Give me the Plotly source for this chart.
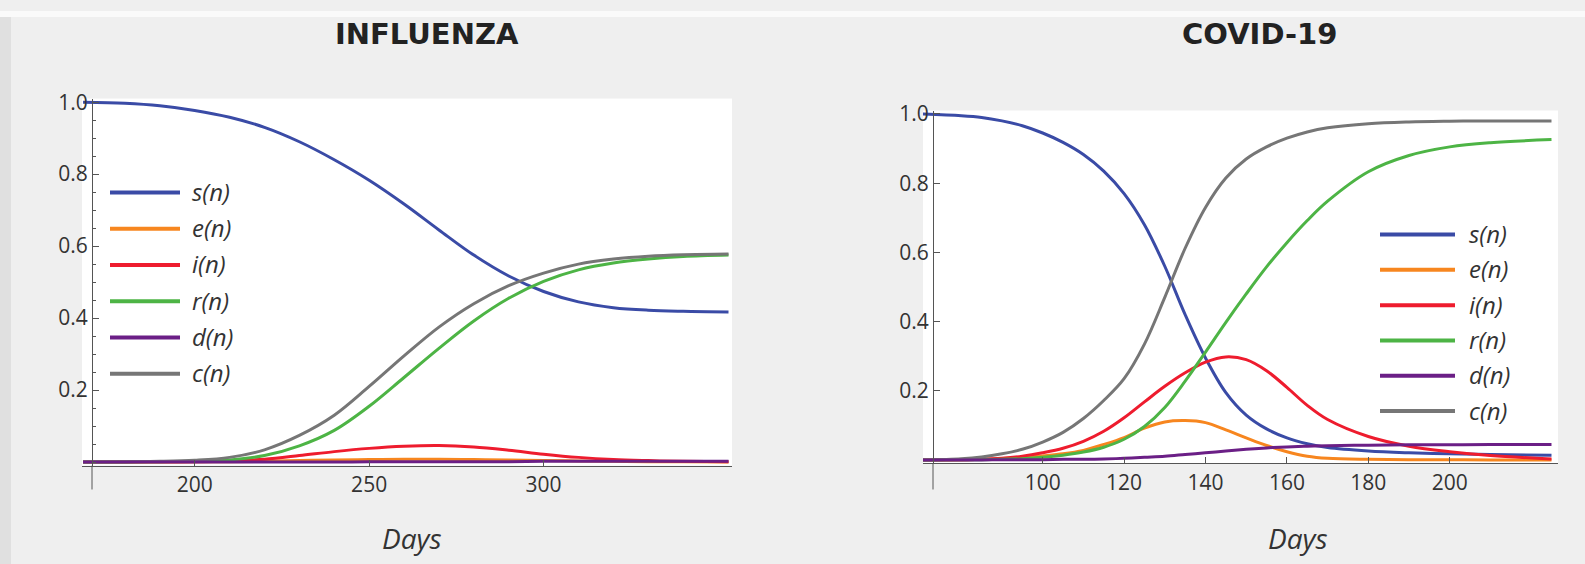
import plotly.graph_objects as go

# ---------------- data ----------------
series_names = ["s(n)", "e(n)", "i(n)", "r(n)", "d(n)", "c(n)"]
series_colors = ["#3a4ba6", "#f7861f", "#ee1c2e", "#4db445", "#6b1f86", "#767676"]

# Influenza panel
flu_days = [168, 180, 190, 200, 210, 220, 230, 240, 250, 260, 270, 280, 290, 300, 310, 320, 330, 340, 353]
flu_s = [1.0, 0.997, 0.99, 0.977, 0.958, 0.93, 0.89, 0.84, 0.783, 0.717, 0.645, 0.575, 0.517, 0.474, 0.445, 0.429, 0.422, 0.419, 0.417]
flu_e = [0, 0, 0, 0.001, 0.001, 0.002, 0.004, 0.006, 0.007, 0.008, 0.008, 0.007, 0.006, 0.004, 0.003, 0.002, 0.001, 0.001, 0]
flu_i = [0, 0, 0.001, 0.001, 0.003, 0.008, 0.018, 0.029, 0.038, 0.044, 0.046, 0.042, 0.033, 0.022, 0.013, 0.007, 0.004, 0.002, 0.001]
flu_r = [0, 0, 0.001, 0.002, 0.006, 0.018, 0.045, 0.088, 0.155, 0.235, 0.316, 0.392, 0.455, 0.502, 0.534, 0.553, 0.564, 0.571, 0.575]
flu_d = [0, 0, 0, 0, 0, 0, 0, 0, 0.001, 0.001, 0.001, 0.001, 0.001, 0.002, 0.002, 0.002, 0.002, 0.002, 0.002]
flu_c = [0, 0.001, 0.002, 0.005, 0.013, 0.034, 0.074, 0.13, 0.21, 0.295, 0.375, 0.44, 0.49, 0.525, 0.55, 0.564, 0.572, 0.576, 0.578]

# COVID-19 panel
cov_days = [70, 80, 85, 90, 95, 100, 105, 110, 115, 120, 125, 130, 135, 140, 145, 150, 155, 160, 165, 170, 180, 190, 200, 210, 225]
cov_s = [1.0, 0.995, 0.99, 0.98, 0.966, 0.945, 0.918, 0.883, 0.835, 0.77, 0.68, 0.56, 0.42, 0.295, 0.195, 0.13, 0.09, 0.064, 0.047, 0.036, 0.026, 0.021, 0.018, 0.016, 0.014]
cov_e = [0, 0.001, 0.002, 0.004, 0.007, 0.012, 0.018, 0.028, 0.045, 0.065, 0.092, 0.11, 0.114, 0.108, 0.087, 0.064, 0.042, 0.024, 0.011, 0.005, 0.002, 0.001, 0.001, 0, 0]
cov_i = [0, 0.001, 0.002, 0.005, 0.011, 0.021, 0.034, 0.054, 0.083, 0.122, 0.168, 0.213, 0.252, 0.283, 0.298, 0.29, 0.258, 0.21, 0.158, 0.117, 0.068, 0.04, 0.024, 0.013, 0.003]
cov_r = [0, 0.001, 0.001, 0.002, 0.004, 0.008, 0.014, 0.023, 0.037, 0.06, 0.097, 0.152, 0.228, 0.312, 0.398, 0.48, 0.558, 0.628, 0.692, 0.748, 0.833, 0.88, 0.905, 0.917, 0.926]
cov_d = [0, 0, 0, 0.001, 0.001, 0.001, 0.002, 0.002, 0.003, 0.005, 0.008, 0.011, 0.016, 0.021, 0.026, 0.031, 0.035, 0.038, 0.04, 0.041, 0.043, 0.044, 0.044, 0.045, 0.045]
cov_c = [0, 0.004, 0.009, 0.018, 0.031, 0.052, 0.08, 0.12, 0.172, 0.235, 0.335, 0.47, 0.612, 0.73, 0.815, 0.87, 0.905, 0.93, 0.948, 0.96, 0.972, 0.977, 0.979, 0.98, 0.98]

y_tickvals = [0.2, 0.4, 0.6, 0.8, 1.0]
y_ticktext = ["0.2", "0.4", "0.6", "0.8", "1.0"]
flu_xticks = [200, 250, 300]
cov_xticks = [100, 120, 140, 160, 180, 200]
panel_titles = ["INFLUENZA", "COVID-19"]
x_title = "Days"

# ---------------- layout helpers ----------------
W, H = 1585, 564
def fx(px):
    return px / W
def fy(py):
    return 1 - py / H

fig = go.Figure()

# draw order: s, e, i, r, c, d (purple on top at zero)
order = [0, 1, 2, 3, 5, 4]
flu_vals = [flu_s, flu_e, flu_i, flu_r, flu_d, flu_c]
cov_vals = [cov_s, cov_e, cov_i, cov_r, cov_d, cov_c]
for k in order:
    fig.add_trace(go.Scatter(x=flu_days, y=flu_vals[k], mode="lines", name=series_names[k],
                             line=dict(color=series_colors[k], width=3, shape="spline", smoothing=1.0),
                             xaxis="x", yaxis="y", showlegend=False, hoverinfo="skip"))
for k in order:
    fig.add_trace(go.Scatter(x=cov_days, y=cov_vals[k], mode="lines", name=series_names[k],
                             line=dict(color=series_colors[k], width=3, shape="spline", smoothing=1.0),
                             xaxis="x2", yaxis="y2", showlegend=False, hoverinfo="skip"))

tick_font = dict(family="Open Sans", size=21, color="#333333")
axis_color = "#555555"

def xaxis_cfg(domain, rng, tickvals, anchor):
    return dict(domain=domain, range=rng, tickvals=tickvals, ticks="inside", ticklen=6,
                tickcolor=axis_color, showline=True, linecolor=axis_color, linewidth=1,
                showgrid=False, zeroline=False, tickfont=tick_font, anchor=anchor,
                ticklabelstandoff=0)

def yaxis_cfg(domain, position, with_minor):
    d = dict(domain=domain, range=[-0.01, 1.01], tickvals=y_tickvals, ticktext=y_ticktext,
             ticks="inside", ticklen=6, tickcolor=axis_color, showline=True,
             linecolor=axis_color, linewidth=1, showgrid=False, zeroline=False,
             tickfont=tick_font, anchor="free", position=position, ticklabelstandoff=0)
    if with_minor:
        d["minor"] = dict(dtick=0.05, tick0=0, ticks="inside", ticklen=3, tickcolor=axis_color)
    return d

fig.update_layout(
    width=W, height=H,
    margin=dict(l=0, r=0, t=0, b=0),
    paper_bgcolor="#efefef",
    plot_bgcolor="#ffffff",
    xaxis=xaxis_cfg([fx(82), fx(732)], [167.7, 354.0], flu_xticks, "y"),
    yaxis=yaxis_cfg([fy(463.7), fy(89.3)], fx(92), True),
    xaxis2=xaxis_cfg([fx(923), fx(1558)], [70.6, 226.6], cov_xticks, "y2"),
    yaxis2=yaxis_cfg([fy(461.5), fy(101.5)], fx(933), False),
)

shapes = [
    dict(type="rect", xref="paper", yref="paper", x0=0, x1=fx(11), y0=0, y1=1,
         fillcolor="#e0e0e0", line=dict(width=0), layer="below"),
    dict(type="rect", xref="paper", yref="paper", x0=0, x1=1, y0=fy(6), y1=1,
         fillcolor="#fafafa", line=dict(width=0), layer="below"),
    # y-axis lines continue a little below the x axis, as in the original
    dict(type="line", xref="paper", yref="paper", x0=fx(92), x1=fx(92), y0=fy(463.7), y1=fy(488),
         line=dict(color=axis_color, width=1)),
    dict(type="line", xref="paper", yref="paper", x0=fx(933), x1=fx(933), y0=fy(461.5), y1=fy(488),
         line=dict(color=axis_color, width=1)),
]
annotations = []

# titles
for title, xc in zip(panel_titles, (427, 1259)):
    annotations.append(dict(text="<b>" + title + "</b>", x=fx(xc), y=fy(23), xref="paper", yref="paper",
                            xanchor="center", yanchor="middle", showarrow=False,
                            font=dict(family="DejaVu Sans", size=29, color="#222222")))
# axis titles
for xc in (412, 1298):
    annotations.append(dict(text="<i>" + x_title + "</i>", x=fx(xc), y=fy(537), xref="paper", yref="paper",
                            xanchor="center", yanchor="middle", showarrow=False,
                            font=dict(family="Open Sans", size=28, color="#333333")))

# custom legends (long line swatches)
legend_specs = [
    (110, 180, 190, [185, 222, 259, 296, 333, 370]),
    (1380, 1455, 1467, [228, 264, 300, 336, 372, 408]),
]
for x0, x1, xt, rows in legend_specs:
    for k, yy in enumerate(rows):
        shapes.append(dict(type="line", xref="paper", yref="paper", x0=fx(x0), x1=fx(x1),
                           y0=fy(yy), y1=fy(yy), line=dict(color=series_colors[k], width=4)))
        annotations.append(dict(text="<i>" + series_names[k] + "</i>", x=fx(xt), y=fy(yy - 1),
                                xref="paper", yref="paper", xanchor="left", yanchor="middle",
                                showarrow=False, font=dict(family="Open Sans", size=24, color="#333333")))

fig.update_layout(shapes=shapes, annotations=annotations)
fig.write_html("out.html", config={"displayModeBar": False},
               post_script="document.body.style.margin='0px';")
